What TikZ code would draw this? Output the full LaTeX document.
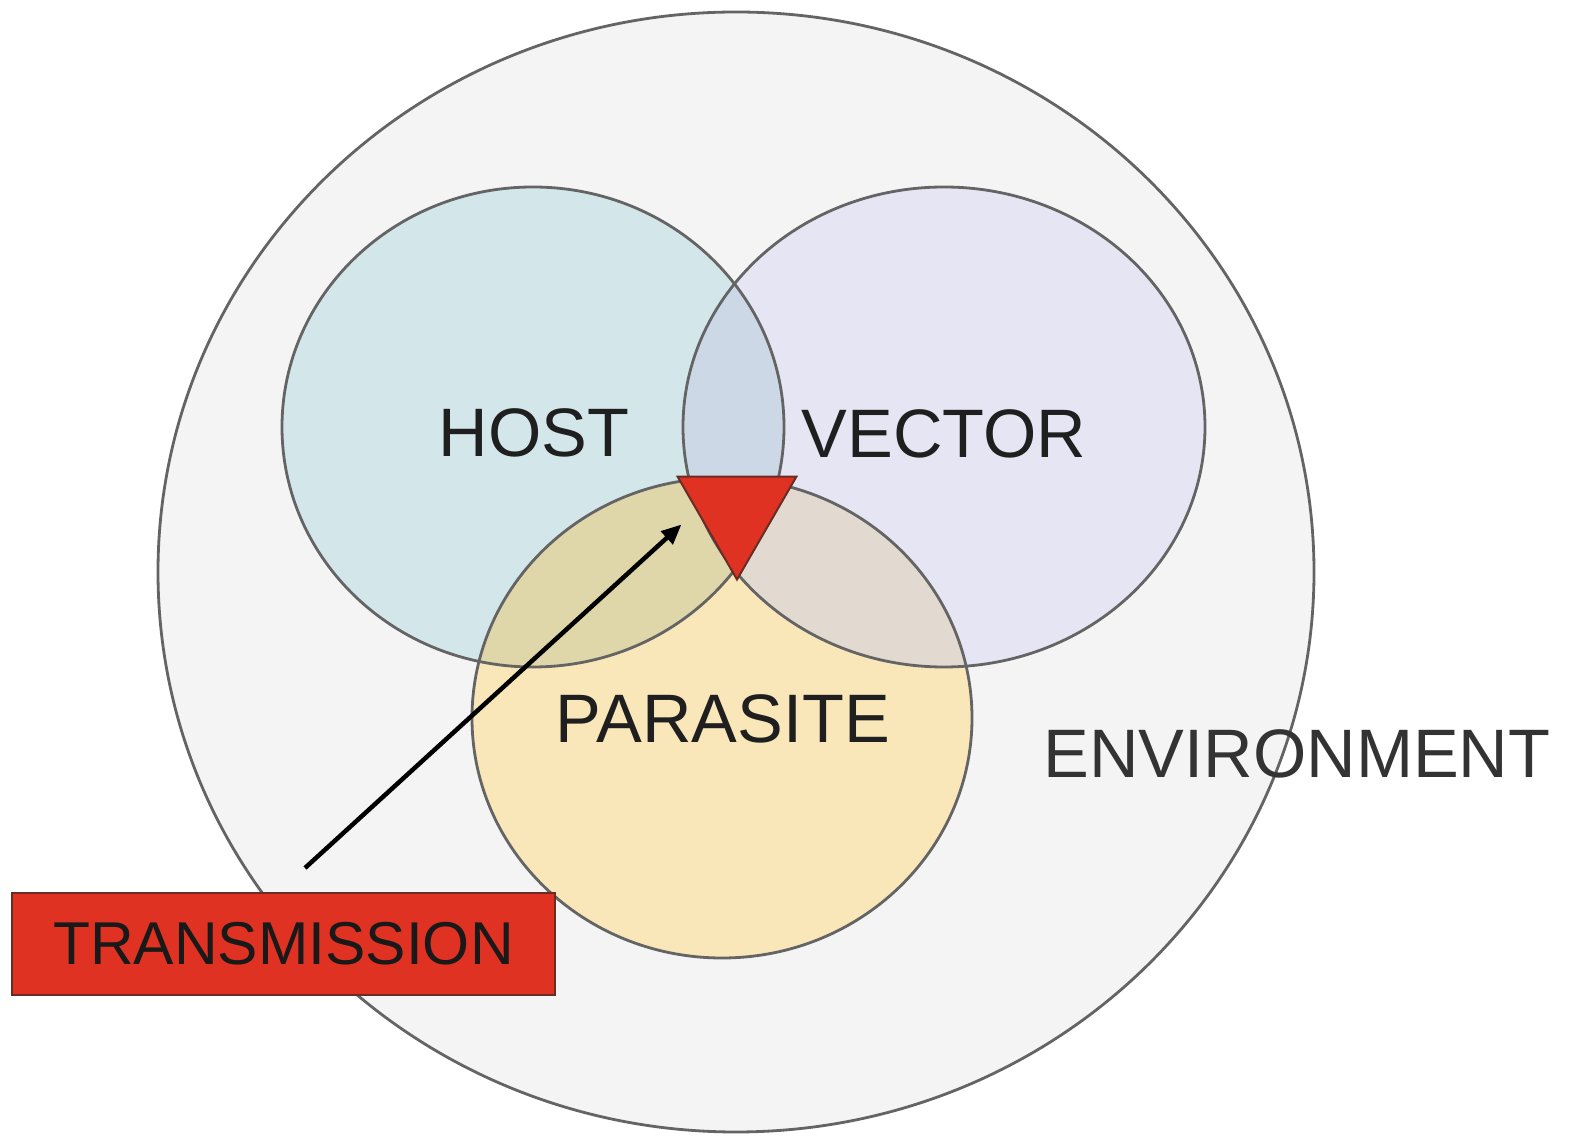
\documentclass[tikz,border=0pt]{standalone}
\usepackage{fontspec}
\setmainfont{Liberation Sans}
\usepackage{tikz}
\usetikzlibrary{arrows.meta,shapes.geometric}
\definecolor{envgray}{RGB}{244,244,244}
\definecolor{edgegray}{RGB}{100,100,100}
\definecolor{hostblue}{RGB}{211,231,235}
\definecolor{vectorlilac}{RGB}{229,229,243}
\definecolor{parasiteyellow}{RGB}{249,231,186}
\definecolor{hvmix}{RGB}{205,216,230}
\definecolor{hpmix}{RGB}{223,214,169}
\definecolor{vpmix}{RGB}{226,218,209}
\definecolor{transred}{RGB}{224,50,34}
\definecolor{darkred}{RGB}{105,45,38}

\begin{document}
\begin{tikzpicture}[x=0.01cm, y=-0.01cm,
  ring/.style={draw=edgegray, line width=0.028cm},
  tagtext/.style={font=\fontsize{19.5}{20}\selectfont, text=black!88, inner sep=0}]
  \useasboundingbox (0,0) rectangle (1575,1137);
  \coordinate (env) at (736,572);
  \coordinate (h) at (533,427);
  \coordinate (v) at (944,427);
  \coordinate (p) at (722,718);

  % backgrounds
  \fill[envgray] (env) ellipse [x radius=578, y radius=560];
  \fill[hostblue] (h) ellipse [x radius=251, y radius=240];
  \fill[vectorlilac] (v) ellipse [x radius=261, y radius=240];
  \fill[parasiteyellow] (p) ellipse [x radius=250, y radius=240];

  % overlaps
  \begin{scope}
    \clip (h) ellipse [x radius=251, y radius=240];
    \fill[hvmix] (v) ellipse [x radius=261, y radius=240];
    \fill[hpmix] (p) ellipse [x radius=250, y radius=240];
  \end{scope}
  \begin{scope}
    \clip (v) ellipse [x radius=261, y radius=240];
    \fill[vpmix] (p) ellipse [x radius=250, y radius=240];
  \end{scope}

  % outlines
  \draw[ring] (env) ellipse [x radius=578, y radius=560];
  \draw[ring] (h) ellipse [x radius=251, y radius=240];
  \draw[ring] (v) ellipse [x radius=261, y radius=240];
  \draw[ring] (p) ellipse [x radius=250, y radius=240];

  \node[regular polygon, regular polygon sides=3, shape border rotate=180,
    minimum size=1.37cm, inner sep=0, fill=transred, draw=darkred,
    line width=0.02cm] (tri) at (737,511) {};

  \node[tagtext] (host) at (534,433) {HOST};
  \node[tagtext] (vector) at (944,434) {VECTOR};
  \node[tagtext] (parasite) at (723,719) {PARASITE};
  \node[tagtext, text=black!80] (environment) at (1297,754) {ENVIRONMENT};

  \coordinate (tail) at (305,868);
  \draw[-{Triangle[length=0.2cm,width=0.17cm]}, line width=0.045cm,
    shorten >=0.2cm] (tail) -- (tri.west);

  \node[draw=darkred, fill=transred, line width=0.025cm, inner sep=0,
    minimum width=5.43cm, minimum height=1.02cm,
    font=\fontsize{17.2}{18}\selectfont, text=black!90] (trans) at (283.5,944) {TRANSMISSION};
\end{tikzpicture}
\end{document}
